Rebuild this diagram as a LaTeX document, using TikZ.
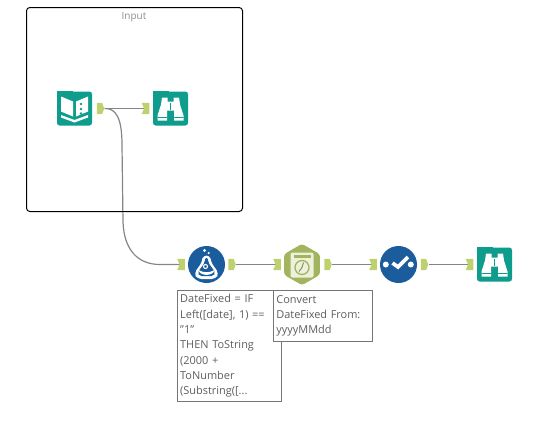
\documentclass[tikz,border=0pt]{standalone}
\usepackage{fontspec}
\setmainfont{Open Sans}
\usepackage{xcolor}
\usetikzlibrary{positioning,shapes.geometric,backgrounds}
\definecolor{toolTeal}{HTML}{0E9C8C}
\definecolor{toolBlue}{HTML}{1B5C9C}
\definecolor{toolOlive}{HTML}{A2B55E}
\definecolor{cardCream}{HTML}{EDF0DC}
\definecolor{portGreen}{HTML}{BDD26E}
\definecolor{wireGray}{HTML}{858585}
\definecolor{noteGray}{HTML}{5E5E5E}
\tikzset{
  tealtile/.style={fill=toolTeal, rounded corners=2pt, inner sep=0, minimum width=26.25pt, minimum height=25.5pt},
  bluedisc/.style={circle, fill=toolBlue, inner sep=0, minimum size=27.75pt},
  olivehex/.style={regular polygon, regular polygon sides=6, shape border rotate=90, fill=toolOlive, rounded corners=2pt, inner sep=0, minimum size=31pt},
  outport/.style={inner sep=0, minimum width=5.6pt, minimum height=8.6pt, path picture={
    \fill[portGreen] (path picture bounding box.north west) -- ([xshift=-1.6pt]path picture bounding box.north east)
      -- (path picture bounding box.east) -- ([xshift=-1.6pt]path picture bounding box.south east)
      -- (path picture bounding box.south west) -- cycle;}},
  inport/.style={inner sep=0, minimum width=5.8pt, minimum height=8.6pt, path picture={
    \fill[portGreen] (path picture bounding box.north west) -- (path picture bounding box.north east)
      -- (path picture bounding box.south east) -- (path picture bounding box.south west)
      -- ([xshift=1.8pt]path picture bounding box.west) -- cycle;}},
  wire/.style={draw=wireGray, line width=.9pt},
  notebox/.style={draw=noteGray!85, fill=white, line width=.8pt, anchor=north west, align=left, text=noteGray,
    inner xsep=1.4pt, inner ysep=2.6pt, font=\fontsize{8.2}{11.5}\selectfont},
  bookglyph/.pic={
    \fill[toolTeal] (-17.5,-18) rectangle (-2,-15);
    \fill[white] (-13.5,-12) -- (-1.5,-7) -- (-1.5,8) -- (-13.5,3) -- cycle;
    \fill[white] (1.5,-7) -- (13.5,-12) -- (13.5,3) -- (1.5,8) -- cycle;
    \fill[toolTeal] (6.5,-4.5) circle (1.3) (6.5,.5) circle (1.3) (6.5,5) circle (1.3);
    \fill[white] (-13.5,6.5) -- (0,11.5) -- (13.5,6.5) -- (13.5,9) -- (0,14) -- (-13.5,9) -- cycle;
  },
  binoglyph/.pic={
    \fill[toolTeal] (-17.5,-18) rectangle (-2,-15);
    \fill[white] (-8.5,-11) -- (-3,-11) -- (-3,-7) -- (3,-7) -- (3,-11) -- (8.5,-11) -- (9.5,-4)
      -- (13,7) -- (13,12) -- (3.5,12) -- (3.5,2) -- (-3.5,2) -- (-3.5,12) -- (-13,12) -- (-13,7) -- (-9.5,-4) -- cycle;
    \fill[toolTeal] (-.9,-6) rectangle (.9,1);
    \fill[toolTeal] (-13,8.5) rectangle (-3.5,9.3) (3.5,8.5) rectangle (13,9.3);
  },
  flaskglyph/.pic={
    \fill[white] (-2,-14) circle (1.7) (2.2,-11.5) circle (1.2);
    \fill[white, rounded corners=3pt] (-4,-9) -- (4,-9) -- (4,-3) -- (12.5,9) -- (9,14.5) -- (-9,14.5) -- (-12.5,9) -- (-4,-3) -- cycle;
    \fill[toolBlue, rounded corners=1.5pt] (-1.6,-6.5) -- (1.6,-6.5) -- (1.6,-2) -- (9,8) -- (7,11.5) -- (-7,11.5) -- (-9,8) -- (-1.6,-2) -- cycle;
    \draw[white, line width=.8pt] (-1,2) circle (2);
    \fill[white] (-8,5.5) .. controls (-3,8.5) and (3,8.5) .. (8,5.5) .. controls (7,12) and (-7,12) .. (-8,5.5) -- cycle;
  },
  clockglyph/.pic={
    \fill[cardCream, rounded corners=1.5pt] (-11.5,-12) rectangle (11.5,13);
    \fill[toolOlive] (-8.5,-10) rectangle (8.5,-7);
    \draw[toolOlive, line width=1pt] (0,3) circle (7);
    \draw[toolOlive!80!black, line width=.7pt] (1.5,-2) -- (0,3) -- (-3,7);
  },
  checkglyph/.pic={
    \fill[white] (-12.7,0) circle (3) (12.3,0) circle (3);
    \draw[white, line width=2.8pt] (-6,-1.5) -- (-.5,2.5) -- (9.5,-7.5);
  },
}
\begin{document}
\begin{tikzpicture}[x=.75pt, y=-.75pt]
  \useasboundingbox (0,0) rectangle (539,422);

  \node[draw=black, line width=.75pt, rounded corners=2.5pt, anchor=north west, inner sep=0, minimum width=162pt, minimum height=153pt] (inputbox) at (26,7) {};
  \node[text=noteGray!70, font=\fontsize{7.5}{9}\selectfont] (inputtitle) at (134,17.5) {Input};

  % input container tools
  \node[tealtile] (book) at (74.5,108.5) {};
  \pic at (book) {bookglyph};
  \node[outport] (bookout) at (100.5,108.5) {};
  \node[inport] (binoonein) at (145.5,108.5) {};
  \node[tealtile] (binoone) at (170.5,108.5) {};
  \pic at (binoone) {binoglyph};

  % lower row
  \node[inport] (flaskin) at (181,264.5) {};
  \node[bluedisc] (flask) at (206.5,264.5) {};
  \pic at (flask) {flaskglyph};
  \node[outport] (flaskout) at (232,264.5) {};
  \node[inport] (datein) at (277,264.5) {};
  \node[olivehex] (date) at (302,264.5) {};
  \pic at (date) {clockglyph};
  \node[outport] (dateout) at (328,264.5) {};
  \node[inport] (checkin) at (373,264.5) {};
  \node[bluedisc] (check) at (398.5,264.5) {};
  \pic at (check) {checkglyph};
  \node[outport] (checkout) at (424.5,264.5) {};
  \node[inport] (binotwoin) at (469.5,264.5) {};
  \node[tealtile] (binotwo) at (494.5,264.5) {};
  \pic at (binotwo) {binoglyph};

  \begin{scope}[on background layer]
    \draw[wire] (bookout.east) -- (binoonein.center);
    \draw[wire] (bookout.east) .. controls (116,108) and (122,118) .. (122,145) -- (123,222)
      .. controls (124,250) and (138,264.5) .. (160,264.5) -- (flaskin.center);
    \draw[wire] (flaskout.east) -- (datein.center);
    \draw[wire] (dateout.east) -- (checkin.center);
    \draw[wire] (checkout.east) -- (binotwoin.center);
  \end{scope}

  \node[notebox, minimum width=78pt, minimum height=83.25pt, text width=74pt] (flasknote) at (177,290)
    {DateFixed = IF\\Left([date], 1) ==\\"1"\\THEN ToString\\(2000 +\\ToNumber\\(Substring([...};
  \node[notebox, minimum width=74.25pt, minimum height=38pt, text width=70pt] (datenote) at (273,290)
    {Convert\\DateFixed From:\\yyyyMMdd};
\end{tikzpicture}
\end{document}
